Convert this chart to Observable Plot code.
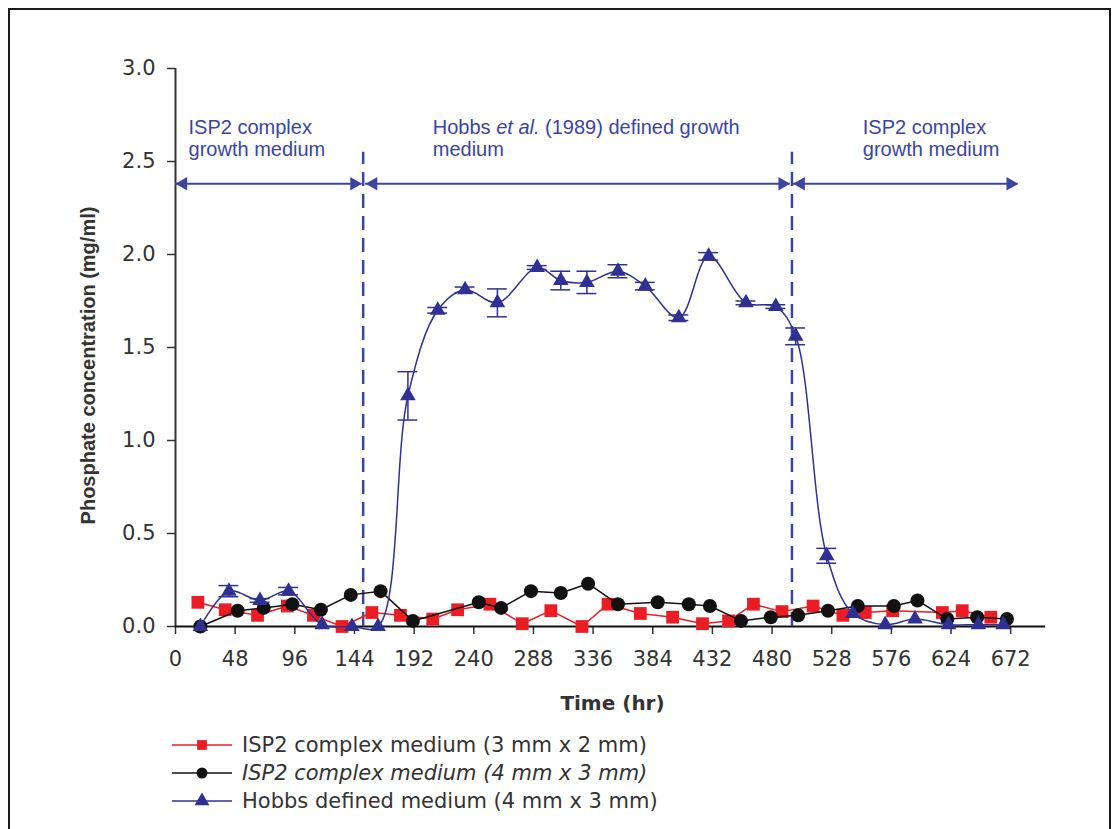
<!DOCTYPE html>
<html>
<head>
<meta charset="utf-8">
<script src="https://cdn.jsdelivr.net/npm/d3@7"></script>
<script src="https://cdn.jsdelivr.net/npm/@observablehq/plot@0.6"></script>
<style>
  html, body { margin: 0; padding: 0; background: #fff; }
  body { width: 1119px; height: 829px; position: relative; overflow: hidden; }
  #frame { position: absolute; left: 8px; top: 8px; width: 1103px; height: 900px; border: 2px solid #1a1a1a; box-sizing: border-box; }
  #chart { position: absolute; left: 0; top: 0; }
  #legend { position: absolute; left: 170px; top: 731px; font-family: "DejaVu Sans", sans-serif; font-size: 21px; color: #333; }
  #legend .row { display: flex; align-items: center; height: 28px; }
  #legend svg { margin-right: 10px; }
</style>
</head>
<body>
<div id="frame"></div>
<div id="chart"></div>
<div id="legend"></div>
<script>
// Sampling times (hr) and phosphate concentrations (mg/ml) for each culture
const ispSmallTime = [18, 40, 66, 90, 111, 134, 158, 181, 207, 227, 253, 279, 302, 327, 348, 374, 400, 424, 445, 465, 488, 513, 537, 555, 577, 617, 633, 656];
const ispSmallConc = [0.13, 0.09, 0.06, 0.11, 0.06, 0.0, 0.075, 0.06, 0.04, 0.09, 0.12, 0.015, 0.085, 0.0, 0.12, 0.07, 0.05, 0.015, 0.03, 0.12, 0.08, 0.11, 0.06, 0.075, 0.085, 0.075, 0.085, 0.05];

const ispLargeTime = [20, 50, 71, 94, 117, 141, 165, 191, 244, 262, 286, 310, 332, 356, 388, 413, 430, 455, 479, 501, 525, 549, 578, 597, 621, 645, 669];
const ispLargeConc = [0.0, 0.085, 0.10, 0.12, 0.09, 0.17, 0.19, 0.03, 0.13, 0.10, 0.19, 0.18, 0.23, 0.12, 0.13, 0.12, 0.11, 0.03, 0.05, 0.06, 0.085, 0.11, 0.11, 0.14, 0.04, 0.05, 0.04];

const hobbsTime = [20, 43, 68, 91, 118, 142, 163, 187, 211, 233, 259, 291, 310, 331, 356, 378, 405, 429, 459, 483, 499, 524, 545, 571, 595, 622, 646, 666];
const hobbsConc = [0.0, 0.19, 0.14, 0.19, 0.01, 0.0, 0.0, 1.24, 1.70, 1.81, 1.74, 1.93, 1.86, 1.85, 1.91, 1.83, 1.66, 1.99, 1.74, 1.72, 1.56, 0.38, 0.07, 0.01, 0.04, 0.01, 0.01, 0.01];
const hobbsErr  = [0.0, 0.03, 0.01, 0.02, 0.0, 0.0, 0.0, 0.13, 0.015, 0.015, 0.075, 0.01, 0.05, 0.06, 0.035, 0.02, 0.015, 0.02, 0.01, 0.01, 0.045, 0.04, 0.0, 0.0, 0.0, 0.0, 0.0, 0.0];

// Medium changes (hr) and the phase labels above the curves
const switchTimes = [151, 496];
const phaseStart = [0, 153, 497];
const phaseEnd = [150, 494.5, 678];
const phaseLabelX = [10.5, 207, 553];
const phaseLabels = ["ISP2 complex\ngrowth medium", "Hobbs et al. (1989) defined growth\nmedium", "ISP2 complex\ngrowth medium"];
const phaseArrowLevel = 2.38;
const phaseLabelLevel = 2.73;

// Axis ticks
const xTicks = d3.range(0, 673, 48);
const yTicks = [0, 0.5, 1.0, 1.5, 2.0, 2.5, 3.0];

// Series styling for plot and legend
const seriesNames = ["ISP2 complex medium (3 mm x 2 mm)", "ISP2 complex medium (4 mm x 3 mm)", "Hobbs defined medium (4 mm x 3 mm)"];
const seriesColors = ["#ec1c24", "#111111", "#2e3192"];
const seriesSymbols = ["square", "circle", "triangle"];
const annColor = "#3b45a0";

const zip = (t, c) => t.map((x, i) => ({t: x, c: c[i]}));
const ispSmall = zip(ispSmallTime, ispSmallConc);
const ispLarge = zip(ispLargeTime, ispLargeConc);
const hobbs = hobbsTime.map((t, i) => ({t, c: hobbsConc[i], e: hobbsErr[i]}));
const hobbsBars = hobbs.filter(d => d.e > 0);

const phases = phaseStart.map((s, i) => ({s, e: phaseEnd[i]}));
const headR = 5;
const headOffset = Math.sqrt(4 * Math.PI * headR * headR / Math.sqrt(3)) / Math.sqrt(3); // centroid-to-tip distance

const chart = Plot.plot({
  width: 1119,
  height: 720,
  marginLeft: 175,
  marginRight: 74,
  marginTop: 68,
  marginBottom: 94,
  x: {domain: [0, 700]},
  y: {domain: [0, 3]},
  style: {fontFamily: "'DejaVu Sans', sans-serif", fontSize: "21px", color: "#333", background: "transparent", overflow: "visible"},
  marks: [
    Plot.axisY({ticks: yTicks, tickFormat: d3.format(".1f"), tickSize: 8, tickPadding: 12, label: null, strokeWidth: 1.5}),
    Plot.axisX({ticks: xTicks, tickSize: 8, tickPadding: 17, label: null, strokeWidth: 1.5}),
    Plot.ruleX([0], {stroke: "#333", strokeWidth: 2}),
    Plot.ruleY([0], {stroke: "#111", strokeWidth: 2}),
    // axis titles
    Plot.text(["Phosphate concentration (mg/ml)"], {frameAnchor: "left", textAnchor: "middle", rotate: -90, dx: -87, dy: 18, fontWeight: "bold", fontSize: 20, fill: "#333", fontFamily: "'Liberation Sans', Arial, sans-serif"}),
    Plot.text(["Time (hr)"], {frameAnchor: "bottom", dx: 2, dy: 83, fontWeight: "bold", fontSize: 20, fill: "#333"}),
    // medium changes
    Plot.ruleX(switchTimes, {y1: 0, y2: 2.55, stroke: annColor, strokeWidth: 2.5, strokeDasharray: "14,8"}),
    Plot.ruleY(phases, {x1: "s", x2: "e", y: phaseArrowLevel, stroke: annColor, strokeWidth: 2}),
    Plot.dot(phases, {x: "s", y: phaseArrowLevel, symbol: "triangle", rotate: -90, r: headR, fill: annColor, dx: headOffset}),
    Plot.dot(phases, {x: "e", y: phaseArrowLevel, symbol: "triangle", rotate: 90, r: headR, fill: annColor, dx: -headOffset}),
    Plot.text(phaseLabels, {x: phaseLabelX, y: phaseLabelLevel, textAnchor: "start", lineAnchor: "top", lineHeight: 1.1, fill: annColor, fontSize: 20, fontFamily: "'Liberation Sans', Arial, sans-serif"}),
    // ISP2 3 mm x 2 mm
    Plot.line(ispSmall, {x: "t", y: "c", stroke: seriesColors[0], strokeWidth: 1.5}),
    Plot.dot(ispSmall, {x: "t", y: "c", symbol: seriesSymbols[0], r: 7.2, fill: seriesColors[0]}),
    // ISP2 4 mm x 3 mm
    Plot.line(ispLarge, {x: "t", y: "c", stroke: seriesColors[1], strokeWidth: 1.5}),
    Plot.dot(ispLarge, {x: "t", y: "c", symbol: seriesSymbols[1], r: 7, fill: seriesColors[1]}),
    // Hobbs defined medium, smoothed with error bars
    Plot.line(hobbs, {x: "t", y: "c", stroke: seriesColors[2], strokeWidth: 1.5, curve: "catmull-rom"}),
    Plot.ruleX(hobbsBars, {x: "t", y1: d => d.c - d.e, y2: d => d.c + d.e, stroke: seriesColors[2], strokeWidth: 1.5}),
    Plot.ruleY(hobbsBars, {x1: d => d.t - 8, x2: d => d.t + 8, y: d => d.c + d.e, stroke: seriesColors[2], strokeWidth: 1.5}),
    Plot.ruleY(hobbsBars, {x1: d => d.t - 8, x2: d => d.t + 8, y: d => d.c - d.e, stroke: seriesColors[2], strokeWidth: 1.5}),
    Plot.dot(hobbs, {x: "t", y: "c", symbol: seriesSymbols[2], r: 5.8, fill: seriesColors[2]})
  ]
});
document.getElementById("chart").appendChild(chart);

// italicise "et al." in the middle phase label
d3.select(chart).selectAll("tspan").each(function() {
  const node = this;
  const txt = node.textContent;
  const i = txt.indexOf("et al.");
  if (i < 0 || node.children.length) return;
  const sel = d3.select(node);
  sel.text(null);
  sel.append("tspan").text(txt.slice(0, i));
  sel.append("tspan").attr("font-style", "italic").text("et al.");
  sel.append("tspan").text(txt.slice(i + 6));
});

// legend
const legend = d3.select("#legend");
seriesNames.forEach((name, i) => {
  const row = legend.append("div").attr("class", "row");
  const sw = row.append("svg").attr("width", 62).attr("height", 20);
  sw.append("line").attr("x1", 2).attr("x2", 62).attr("y1", 10).attr("y2", 10)
    .attr("stroke", seriesColors[i]).attr("stroke-width", 1.5);
  const sym = {square: d3.symbolSquare, circle: d3.symbolCircle, triangle: d3.symbolTriangle}[seriesSymbols[i]];
  sw.append("path").attr("transform", "translate(32,10)")
    .attr("d", d3.symbol(sym, Math.PI * 5.5 * 5.5)()).attr("fill", seriesColors[i]);
  row.append("span").text(name).style("font-style", i === 1 ? "italic" : "normal");
});
</script>
</body>
</html>
